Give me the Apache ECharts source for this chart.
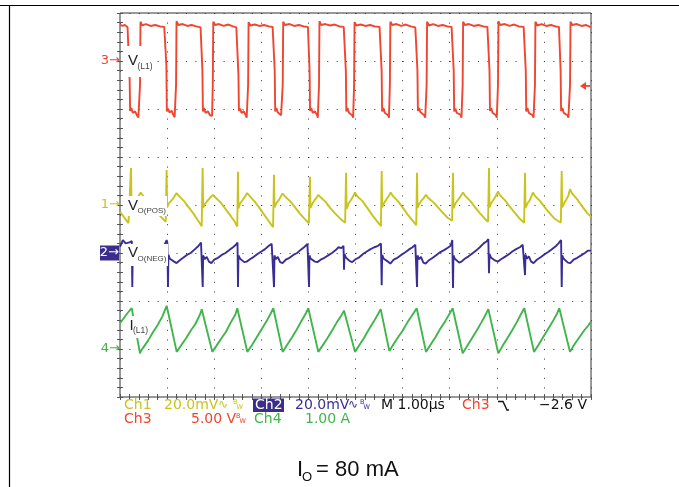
<!DOCTYPE html>
<html><head><meta charset="utf-8">
<script src="https://cdn.jsdelivr.net/npm/echarts@6/dist/echarts.min.js"></script>
<style>html,body{margin:0;padding:0;background:#fff}#c{width:679px;height:487px}</style>
</head><body><div id="c"></div><script>
// Time axis: µs (1.00 µs/div, 10 div). Vertical axis: screen divisions (0 = bottom, 8 = top).
const timeRangeUs = [0, 10];
const divRange = [0, 8];
const groundDiv = { ch3: 7, ch1: 4, ch2: 3, ch4: 1 };
const triggerDiv = 6.48;

// Ch3 : V(L1) switch node
const ch3VL1 = [
[0,7.76],[0.05,7.73],[0.1,7.75],[0.16,7.71],
[0.19,7.70],[0.205,6.6],[0.215,5.96],[0.24,6.02],[0.27,5.92],[0.32,5.95],[0.36,5.87],[0.39,5.82],[0.41,5.86],[0.425,6.5],[0.435,7.82],[0.47,7.74],[0.55,7.77],[0.65,7.73],[0.75,7.75],[0.85,7.72],[0.94,7.71],
[0.97,7.70],[0.985,6.9],[0.995,5.95],[1.02,6.01],[1.05,5.93],[1.1,5.96],[1.13,5.88],[1.16,5.83],[1.175,5.87],[1.19,6.5],[1.2,7.83],[1.24,7.75],[1.33,7.77],[1.43,7.73],[1.52,7.75],[1.62,7.72],[1.71,7.70],
[1.735,7.69],[1.75,6.8],[1.76,5.95],[1.785,6.02],[1.815,5.92],[1.87,5.95],[1.91,5.87],[1.94,5.83],[1.955,5.86],[1.97,6.5],[1.98,7.82],[2.02,7.75],[2.1,7.77],[2.2,7.73],[2.3,7.76],[2.4,7.72],[2.47,7.70],
[2.50,7.70],[2.515,6.7],[2.525,5.96],[2.55,6.01],[2.58,5.92],[2.63,5.95],[2.67,5.87],[2.69,5.82],[2.705,5.86],[2.72,6.5],[2.73,7.81],[2.77,7.74],[2.86,7.76],[2.96,7.73],[3.06,7.75],[3.16,7.72],[3.24,7.71],
[3.27,7.70],[3.285,6.8],[3.295,5.95],[3.32,6.02],[3.35,5.93],[3.39,5.95],[3.42,5.87],[3.44,5.83],[3.445,5.86],[3.455,6.5],[3.465,7.82],[3.5,7.75],[3.6,7.77],[3.7,7.73],[3.8,7.75],[3.9,7.72],[3.99,7.71],
[4.01,7.70],[4.025,6.8],[4.035,5.96],[4.06,6.02],[4.09,5.92],[4.14,5.95],[4.18,5.88],[4.2,5.82],[4.212,5.86],[4.225,6.5],[4.235,7.83],[4.27,7.75],[4.36,7.77],[4.46,7.74],[4.56,7.76],[4.66,7.72],[4.75,7.71],
[4.78,7.70],[4.795,6.8],[4.805,5.95],[4.83,6.02],[4.86,5.92],[4.9,5.95],[4.93,5.87],[4.95,5.82],[4.96,5.86],[4.97,6.5],[4.98,7.81],[5.02,7.74],[5.11,7.76],[5.21,7.73],[5.31,7.75],[5.41,7.72],[5.51,7.71],
[5.54,7.70],[5.555,6.8],[5.565,5.95],[5.59,6.02],[5.62,5.92],[5.66,5.95],[5.69,5.87],[5.71,5.82],[5.72,5.86],[5.73,6.5],[5.74,7.82],[5.78,7.75],[5.87,7.77],[5.97,7.73],[6.07,7.76],[6.17,7.72],[6.27,7.70],
[6.30,7.70],[6.315,6.8],[6.325,5.96],[6.35,6.02],[6.38,5.93],[6.42,5.95],[6.46,5.87],[6.48,5.82],[6.495,5.86],[6.51,6.5],[6.52,7.82],[6.56,7.74],[6.65,7.77],[6.75,7.73],[6.85,7.75],[6.95,7.72],[7.04,7.71],
[7.07,7.70],[7.085,6.8],[7.095,5.95],[7.12,6.01],[7.15,5.92],[7.19,5.95],[7.23,5.88],[7.25,5.82],[7.262,5.86],[7.275,6.5],[7.285,7.82],[7.32,7.75],[7.41,7.77],[7.51,7.73],[7.61,7.75],[7.71,7.72],[7.8,7.71],
[7.83,7.70],[7.845,6.8],[7.855,5.96],[7.88,6.02],[7.91,5.92],[7.95,5.95],[7.98,5.87],[8.0,5.82],[8.012,5.86],[8.025,6.5],[8.035,7.83],[8.07,7.75],[8.17,7.77],[8.27,7.73],[8.37,7.76],[8.47,7.72],[8.57,7.71],
[8.60,7.70],[8.615,6.8],[8.625,5.95],[8.65,6.02],[8.68,5.92],[8.72,5.95],[8.76,5.87],[8.78,5.82],[8.795,5.86],[8.81,6.5],[8.82,7.82],[8.86,7.74],[8.95,7.77],[9.05,7.73],[9.15,7.75],[9.25,7.72],[9.32,7.71],
[9.34,7.70],[9.355,6.8],[9.365,5.96],[9.39,6.02],[9.42,5.92],[9.46,5.95],[9.5,5.87],[9.52,5.82],[9.54,5.86],[9.555,6.5],[9.565,7.82],[9.6,7.75],[9.7,7.77],[9.8,7.73],[9.9,7.75],[10,7.70]
];

// Ch1 : V_O(POS) ripple
const ch1VoPos = [
[0,3.86],[0.06,3.78],[0.12,3.7],[0.18,3.62],[0.215,3.58],
[0.234,4.77],[0.245,3.93],[0.28,4.02],[0.33,4.1],[0.38,4.16],[0.44,4.26],[0.49,4.19],[0.53,4.2],[0.6,4.08],[0.7,3.95],[0.8,3.83],[0.9,3.72],[0.97,3.65],
[0.99,4.73],[1.0,3.95],[1.04,4.04],[1.1,4.1],[1.15,4.17],[1.2,4.25],[1.25,4.19],[1.29,4.2],[1.36,4.08],[1.46,3.95],[1.56,3.82],[1.66,3.67],[1.735,3.56],
[1.755,4.77],[1.765,3.94],[1.8,4.02],[1.86,4.09],[1.92,4.16],[1.975,4.21],[2.02,4.16],[2.06,4.17],[2.13,4.06],[2.23,3.93],[2.33,3.8],[2.43,3.66],[2.49,3.55],
[2.505,4.69],[2.515,3.93],[2.55,4.03],[2.6,4.1],[2.65,4.17],[2.70,4.25],[2.75,4.19],[2.79,4.2],[2.86,4.07],[2.96,3.94],[3.06,3.8],[3.16,3.66],[3.25,3.54],
[3.27,4.63],[3.28,3.95],[3.32,4.04],[3.37,4.1],[3.41,4.17],[3.45,4.24],[3.5,4.18],[3.54,4.19],[3.61,4.08],[3.71,3.96],[3.81,3.83],[3.91,3.72],[4.01,3.62],
[4.034,4.59],[4.044,3.94],[4.08,4.02],[4.13,4.1],[4.17,4.15],[4.21,4.21],[4.26,4.16],[4.3,4.17],[4.37,4.06],[4.47,3.93],[4.57,3.82],[4.67,3.72],[4.78,3.63],
[4.80,4.67],[4.81,3.92],[4.85,4.03],[4.9,4.1],[4.95,4.18],[4.99,4.26],[5.04,4.18],[5.08,4.2],[5.15,4.08],[5.25,3.94],[5.35,3.8],[5.45,3.67],[5.54,3.56],
[5.556,4.71],[5.566,3.95],[5.6,4.03],[5.65,4.11],[5.7,4.18],[5.747,4.26],[5.79,4.19],[5.83,4.2],[5.9,4.08],[6.0,3.95],[6.1,3.81],[6.2,3.69],[6.29,3.58],
[6.306,4.67],[6.316,3.94],[6.35,4.02],[6.4,4.09],[6.45,4.15],[6.497,4.21],[6.54,4.15],[6.58,4.16],[6.65,4.06],[6.75,3.95],[6.85,3.84],[6.95,3.74],[7.05,3.67],
[7.07,4.67],[7.08,3.93],[7.12,4.03],[7.17,4.1],[7.23,4.18],[7.282,4.26],[7.33,4.19],[7.37,4.2],[7.44,4.08],[7.54,3.95],[7.64,3.83],[7.74,3.72],[7.815,3.65],
[7.834,4.77],[7.844,3.95],[7.88,4.04],[7.93,4.11],[7.98,4.19],[8.025,4.28],[8.07,4.2],[8.11,4.21],[8.18,4.09],[8.28,3.96],[8.38,3.84],[8.48,3.72],[8.58,3.63],
[8.599,4.67],[8.609,3.94],[8.65,4.03],[8.7,4.1],[8.73,4.17],[8.768,4.26],[8.81,4.19],[8.85,4.2],[8.92,4.08],[9.02,3.95],[9.12,3.83],[9.22,3.72],[9.36,3.63],
[9.378,4.71],[9.388,3.95],[9.43,4.04],[9.48,4.12],[9.52,4.2],[9.554,4.33],[9.6,4.24],[9.64,4.22],[9.72,4.1],[9.82,3.96],[9.92,3.83],[10,3.76]
];

// Ch2 : V_O(NEG) ripple
const ch2VoNeg = [
[0,3.13],[0.06,3.27],[0.12,3.2],[0.2,3.22],[0.25,3.25],
[0.261,2.29],[0.27,2.95],[0.3,2.88],[0.34,2.92],[0.39,2.82],[0.44,2.79],[0.51,2.86],[0.58,2.9],[0.66,2.94],[0.74,3.02],[0.82,3.05],[0.9,3.12],[0.96,3.2],[0.99,3.27],[1.005,3.22],
[1.019,2.29],[1.028,2.96],[1.06,2.88],[1.1,2.92],[1.15,2.82],[1.2,2.79],[1.27,2.85],[1.34,2.9],[1.42,2.96],[1.5,3.0],[1.58,3.07],[1.66,3.14],[1.72,3.22],[1.745,3.25],
[1.756,2.29],[1.765,2.95],[1.8,2.87],[1.84,2.92],[1.89,2.82],[1.94,2.79],[2.0,2.86],[2.08,2.9],[2.16,2.96],[2.24,3.0],[2.32,3.06],[2.4,3.12],[2.46,3.17],[2.495,3.22],
[2.505,2.29],[2.515,2.95],[2.55,2.88],[2.59,2.92],[2.64,2.81],[2.69,2.82],[2.76,2.87],[2.84,2.92],[2.92,2.98],[3.0,3.03],[3.08,3.08],[3.16,3.15],[3.22,3.19],[3.26,3.23],
[3.27,2.29],[3.28,2.95],[3.31,2.87],[3.35,2.92],[3.4,2.81],[3.45,2.79],[3.52,2.86],[3.6,2.9],[3.68,2.96],[3.76,3.0],[3.84,3.07],[3.92,3.13],[3.98,3.19],[4.0,3.23],
[4.013,2.29],[4.022,2.95],[4.05,2.88],[4.09,2.92],[4.14,2.82],[4.19,2.81],[4.26,2.86],[4.34,2.9],[4.42,2.95],[4.5,3.0],[4.58,3.06],[4.64,3.12],[4.7,3.1],[4.745,3.15],
[4.756,2.65],[4.765,2.98],[4.8,2.9],[4.84,2.94],[4.88,2.83],[4.93,2.81],[5.0,2.87],[5.08,2.91],[5.16,2.98],[5.24,3.03],[5.32,3.08],[5.4,3.12],[5.48,3.15],[5.54,3.2],
[5.556,2.33],[5.566,2.96],[5.6,2.88],[5.64,2.92],[5.69,2.82],[5.74,2.78],[5.81,2.86],[5.89,2.9],[5.97,2.96],[6.05,3.01],[6.13,3.07],[6.21,3.12],[6.27,3.17],[6.295,3.2],
[6.306,2.29],[6.316,2.95],[6.35,2.87],[6.39,2.92],[6.44,2.8],[6.49,2.78],[6.56,2.85],[6.64,2.9],[6.72,2.96],[6.8,3.02],[6.88,3.06],[6.96,3.11],[7.02,3.15],[7.055,3.27],
[7.07,2.27],[7.08,2.95],[7.11,2.88],[7.15,2.92],[7.2,2.8],[7.25,2.82],[7.32,2.88],[7.4,2.93],[7.48,2.99],[7.56,3.05],[7.64,3.12],[7.72,3.2],[7.78,3.24],[7.82,3.29],
[7.834,2.58],[7.844,2.98],[7.88,2.9],[7.92,2.93],[7.97,2.84],[8.02,2.82],[8.09,2.87],[8.17,2.92],[8.25,2.97],[8.33,3.03],[8.41,3.08],[8.49,3.12],[8.55,3.17],[8.585,3.2],
[8.599,2.54],[8.609,2.97],[8.64,2.88],[8.68,2.93],[8.73,2.82],[8.78,2.79],[8.85,2.86],[8.93,2.91],[9.01,2.97],[9.09,3.02],[9.17,3.08],[9.25,3.14],[9.31,3.2],[9.365,3.27],
[9.378,2.29],[9.388,2.95],[9.42,2.88],[9.46,2.92],[9.51,2.8],[9.56,2.79],[9.63,2.86],[9.71,2.9],[9.79,2.95],[9.87,3.0],[9.94,3.05],[10,3.05]
];

// Ch4 : I(L1) inductor current
const ch4IL1 = [
[0,1.54],[0.08,1.64],[0.16,1.75],[0.248,1.85],
[0.425,0.91],[0.45,0.97],[0.5,1.04],[0.6,1.18],[0.7,1.35],[0.8,1.5],[0.9,1.68],[0.991,1.9],
[1.204,0.94],[1.3,1.08],[1.4,1.22],[1.5,1.38],[1.6,1.52],[1.7,1.72],[1.735,1.83],
[1.96,0.94],[2.05,1.07],[2.15,1.22],[2.25,1.36],[2.35,1.55],[2.45,1.72],[2.49,1.85],
[2.703,0.94],[2.8,1.08],[2.9,1.24],[3.0,1.4],[3.1,1.56],[3.2,1.74],[3.255,1.85],
[3.454,0.94],[3.55,1.09],[3.65,1.24],[3.75,1.4],[3.85,1.58],[3.95,1.75],[3.998,1.85],
[4.21,0.94],[4.3,1.07],[4.4,1.22],[4.5,1.38],[4.6,1.55],[4.7,1.7],[4.756,1.80],
[4.989,0.94],[5.08,1.08],[5.18,1.23],[5.28,1.4],[5.38,1.56],[5.48,1.73],[5.535,1.83],
[5.718,0.96],[5.8,1.09],[5.9,1.24],[6.0,1.38],[6.1,1.55],[6.2,1.7],[6.299,1.85],
[6.497,0.94],[6.6,1.1],[6.7,1.25],[6.8,1.42],[6.9,1.57],[7.0,1.74],[7.063,1.85],
[7.276,0.91],[7.37,1.06],[7.47,1.22],[7.57,1.38],[7.67,1.55],[7.77,1.73],[7.82,1.83],
[8.032,0.91],[8.12,1.06],[8.22,1.22],[8.32,1.38],[8.42,1.55],[8.52,1.74],[8.584,1.85],
[8.79,0.94],[8.88,1.08],[8.98,1.24],[9.08,1.4],[9.18,1.56],[9.28,1.74],[9.327,1.85],
[9.554,0.94],[9.65,1.1],[9.75,1.24],[9.85,1.38],[9.95,1.5],[10,1.57]
];

const readoutRow1 = ['Ch1', '20.0mV', 'Ch2', '20.0mV', 'M 1.00µs', 'Ch3', '\u22122.6 V'];
const readoutRow2 = ['Ch3', '5.00 V', 'Ch4', '1.00 A'];
const titleParts = ['I', 'O', ' = 80 mA'];

const COL = { red:'#ef4630', yel:'#c9c41d', blu:'#3a2e96', grn:'#40b54b' };

const chart = echarts.init(document.getElementById('c'));
function xAx(pos, split){
  return {type:'value', min:timeRangeUs[0], max:timeRangeUs[1], interval:1, position:pos,
    axisLine:{show:false}, axisLabel:{show:false},
    axisTick:{show:true, inside:true, length:3, lineStyle:{color:'#555'}},
    minorTick:{show:true, splitNumber:5, length:3, lineStyle:{color:'#555'}},
    splitLine:{show:split, lineStyle:{color:'#333', width:1, type:[1,8.6]}}};
}
function yAx(pos, split){
  return {type:'value', min:divRange[0], max:divRange[1], interval:1, position:pos,
    axisLine:{show:false}, axisLabel:{show:false},
    axisTick:{show:true, inside:true, length:3, lineStyle:{color:'#555'}},
    minorTick:{show:true, splitNumber:5, length:3, lineStyle:{color:'#555'}},
    splitLine:{show:split, lineStyle:{color:'#333', width:1, type:[1,8.42]}}};
}
const line = (name, data, color) => ({name, type:'line', xAxisIndex:0, yAxisIndex:0, data,
  showSymbol:false, symbol:'none', clip:true, lineStyle:{color, width:1.9}, itemStyle:{color}});

chart.setOption({
  animation:false,
  backgroundColor:'#fff',
  grid:{left:120, top:13, width:471, height:384, show:true, borderColor:'#333', borderWidth:1, backgroundColor:'transparent'},
  xAxis:[xAx('bottom', true), xAx('top', false)],
  yAxis:[yAx('left', true), yAx('right', false)],
  series:[
    line('V(L1)', ch3VL1, COL.red),
    line('VO(POS)', ch1VoPos, COL.yel),
    line('VO(NEG)', ch2VoNeg, COL.blu),
    line('I(L1)', ch4IL1, COL.grn)
  ]
});

const P = (t, v) => chart.convertToPixel({xAxisIndex:0, yAxisIndex:0}, [t, v]);
const gx = P(0, 0)[0];
const FONT = '"DejaVu Sans"';
const LFONT = '"Liberation Sans", Arial';
const T = (text, x, y, fill, size, opts) => ({type:'text', x, y, z:110,
  style:{text, fill, font: (opts && opts.weight ? opts.weight + ' ' : '') + size + 'px ' + ((opts && opts.family) || FONT),
    align:(opts && opts.align) || 'left', verticalAlign:(opts && opts.va) || 'middle'}});
const R = (x, y, w, h, fill) => ({type:'rect', shape:{x, y, width:w, height:h}, style:{fill}, z:105});

const g = [];
g.push({type:'line', shape:{x1:0, y1:5.5, x2:679, y2:5.5}, style:{stroke:'#000', lineWidth:1.2}, z:120});
g.push({type:'line', shape:{x1:9.5, y1:5.5, x2:9.5, y2:487}, style:{stroke:'#000', lineWidth:1.2}, z:120});

const y3 = P(0, groundDiv.ch3)[1], y1 = P(0, groundDiv.ch1)[1], y2 = P(0, groundDiv.ch2)[1], y4 = P(0, groundDiv.ch4)[1];
g.push(T('3\u2192', gx, y3, COL.red, 13, {align:'right'}));
g.push(T('1\u2192', gx, y1, COL.yel, 13, {align:'right'}));
g.push(R(gx - 20, y2 - 7.5, 19, 15, '#3a2d8c'));
g.push(T('2\u2192', gx - 1, y2, '#fff', 13, {align:'right'}));
g.push(T('4\u2192', gx, y4, COL.grn, 13, {align:'right'}));

const trg = P(10, triggerDiv);
g.push({type:'polygon', shape:{points:[[trg[0]-11, trg[1]], [trg[0]-5, trg[1]-4], [trg[0]-5, trg[1]+4]]}, style:{fill:COL.red}, z:110});
g.push({type:'line', shape:{x1:trg[0]-6, y1:trg[1], x2:trg[0]-1, y2:trg[1]}, style:{stroke:COL.red, lineWidth:1.8}, z:110});

g.push(R(126, 46, 30, 31, '#fff'));
g.push(T('V', 128, 61, '#222', 15, {family:LFONT}));
g.push(T('(L1)', 137.5, 67, '#444', 8.5, {family:LFONT}));
g.push(R(126, 196, 41, 20, '#fff'));
g.push(T('V', 128, 205.5, '#222', 15, {family:LFONT}));
g.push(T('O(POS)', 137.5, 211, '#444', 8, {family:LFONT}));
g.push(R(126, 244, 42, 22, '#fff'));
g.push(T('V', 128, 253, '#222', 15, {family:LFONT}));
g.push(T('O(NEG)', 137.5, 258.5, '#444', 8, {family:LFONT}));
g.push(R(128, 316, 21, 22, '#fff'));
g.push(T('I', 129.5, 325.5, '#222', 15, {family:LFONT}));
g.push(T('(L1)', 133, 331, '#444', 8.5, {family:LFONT}));

const r1 = 405, r2 = 419;
g.push(T(readoutRow1[0], 124, r1, COL.yel, 14));
g.push(T(readoutRow1[1], 164, r1, COL.yel, 14));
g.push(T('\u223F', 218, r1, COL.yel, 12));
g.push(T('B', 233, r1 - 3, COL.yel, 6.5));
g.push(T('W', 236.5, r1 + 2.5, COL.yel, 6.5));
g.push(R(253, 398.5, 31, 13.5, '#3a2d8c'));
g.push(T(readoutRow1[2], 255, r1, '#fff', 14));
g.push(T(readoutRow1[3], 295, r1, COL.blu, 14));
g.push(T('\u223F', 348, r1, COL.blu, 12));
g.push(T('B', 360, r1 - 3, COL.blu, 6.5));
g.push(T('W', 363.5, r1 + 2.5, COL.blu, 6.5));
g.push(T(readoutRow1[4], 381, r1, '#111', 14));
g.push(T(readoutRow1[5], 462, r1, COL.red, 14));
g.push({type:'polyline', shape:{points:[[498,401.5],[503,401.5],[507,410],[509,410]]}, style:{stroke:'#111', lineWidth:1.4, fill:null}, z:110});
g.push(T(readoutRow1[6], 587, r1, '#111', 14, {align:'right'}));
g.push(T(readoutRow2[0], 124, r2, COL.red, 14));
g.push(T(readoutRow2[1], 191, r2, COL.red, 14));
g.push(T('B', 236, r2 - 3, COL.red, 6.5));
g.push(T('W', 239.5, r2 + 2.5, COL.red, 6.5));
g.push(T(readoutRow2[2], 254, r2, COL.grn, 14));
g.push(T(readoutRow2[3], 305, r2, COL.grn, 14));

g.push(T(titleParts[0], 297, 470, '#111', 22, {family:LFONT}));
g.push(T(titleParts[1], 302, 477, '#111', 13, {family:LFONT}));
g.push(T(titleParts[2], 310, 470, '#111', 22, {family:LFONT}));

chart.setOption({graphic:g});
</script></body></html>
